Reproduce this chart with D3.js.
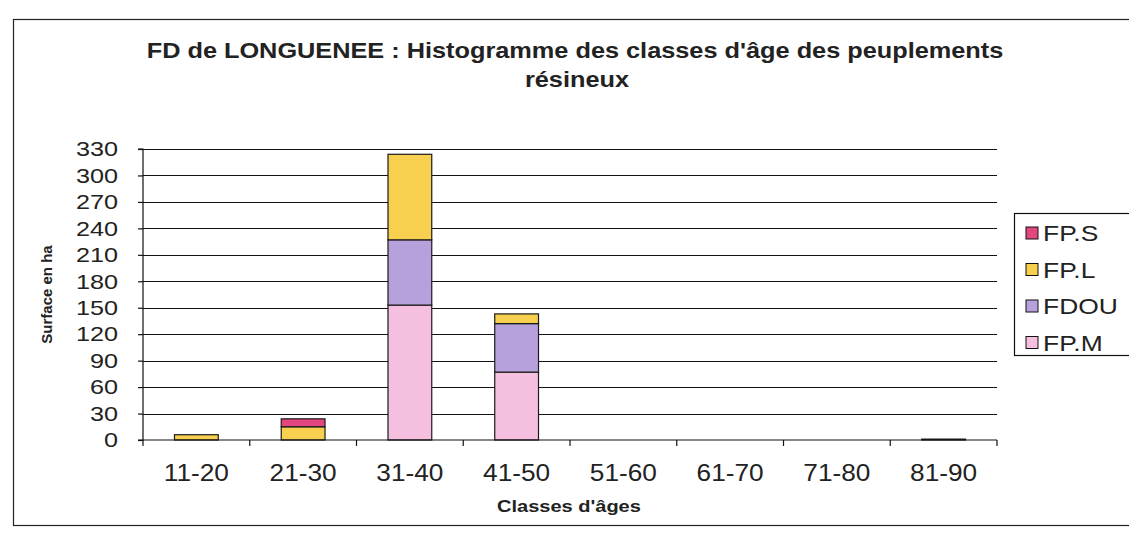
<!DOCTYPE html>
<html>
<head>
<meta charset="utf-8">
<script src="https://cdn.jsdelivr.net/npm/d3@7"></script>
<style>
  body { margin: 0; background: #fff; }
  svg { display: block; font-family: "Liberation Sans", Arial, sans-serif; }
</style>
</head>
<body>
<div id="chart"></div>
<script>
const categories = ['11-20', '21-30', '31-40', '41-50', '51-60', '61-70', '71-80', '81-90'];
const series = ['FP.M', 'FDOU', 'FP.L', 'FP.S'];
const fpM = [0, 0, 153, 77, 0, 0, 0, 0];
const fdou = [0, 0, 74, 55, 0, 0, 0, 0];
const fpL = [6, 15, 97, 11, 0, 0, 0, 1];
const fpS = [0, 9, 0, 0, 0, 0, 0, 0];
const yTicks = [0, 30, 60, 90, 120, 150, 180, 210, 240, 270, 300, 330];
const legendOrder = ['FP.S', 'FP.L', 'FDOU', 'FP.M'];

const colors = {
	'FP.M': '#f5bfdf',
	'FDOU': '#b7a1dc',
	'FP.L': '#f8d04f',
	'FP.S': '#e2467f'
};

const width = 1129, height = 538;
const margin = { left: 143, right: 132, top: 149, bottom: 98 };

// the scanned chart is a little wider than the font: stretch text to match
const stretch = (sel, k) => sel.each(function () {
	const len = this.getComputedTextLength();
	d3.select(this)
		.attr('textLength', len * k)
		.attr('lengthAdjust', 'spacingAndGlyphs');
});

const rows = categories.map((c, i) => ({
	cat: c,
	'FP.M': fpM[i],
	'FDOU': fdou[i],
	'FP.L': fpL[i],
	'FP.S': fpS[i]
}));

const svg = d3.select('#chart')
	.append('svg')
	.attr('width', width)
	.attr('height', height);

// outer chart frame
svg.append('rect')
	.attr('x', 13.5)
	.attr('y', 19.5)
	.attr('width', 1130)
	.attr('height', 506)
	.attr('fill', 'none')
	.attr('stroke', '#222')
	.attr('stroke-width', 1.2);

const x = d3.scaleBand()
	.domain(categories)
	.range([margin.left, width - margin.right])
	.paddingInner(0.59)
	.paddingOuter(0.295);

const xEdge = d3.scaleLinear()
	.domain([0, categories.length])
	.range([margin.left, width - margin.right]);

const y = d3.scaleLinear()
	.domain([0, 330])
	.range([height - margin.bottom, margin.top]);

// gridlines
svg.append('g')
	.selectAll('line')
	.data(yTicks.filter(d => d > 0))
	.join('line')
	.attr('x1', margin.left)
	.attr('x2', width - margin.right)
	.attr('y1', d => Math.round(y(d)) + 0.5)
	.attr('y2', d => Math.round(y(d)) + 0.5)
	.attr('stroke', '#111')
	.attr('stroke-width', 1.2);

// stacked bars
const stack = d3.stack().keys(series)(rows);

svg.append('g')
	.selectAll('g')
	.data(stack)
	.join('g')
	.attr('fill', d => colors[d.key])
	.selectAll('rect')
	.data(d => d.filter(p => p[1] - p[0] > 0))
	.join('rect')
	.attr('x', d => x(d.data.cat))
	.attr('width', x.bandwidth())
	.attr('y', d => y(d[1]))
	.attr('height', d => y(d[0]) - y(d[1]))
	.attr('stroke', '#1a1a1a')
	.attr('stroke-width', 1.2);

// y axis
const yAxis = d3.axisLeft(y)
	.tickValues(yTicks)
	.tickSize(5)
	.tickPadding(20);

const gy = svg.append('g')
	.attr('transform', `translate(${margin.left},0)`)
	.call(yAxis);
gy.selectAll('text')
	.attr('font-size', 21)
	.attr('fill', '#222')
	.attr('font-family', '"Liberation Sans", Arial, sans-serif')
	.call(stretch, 1.2);
gy.selectAll('line, path').attr('stroke', '#111').attr('stroke-width', 1.2);
gy.select('.domain').attr('d', `M-5,${y(330)}H0V${y(0)}H-5`);

// x axis with ticks at band edges
const gx = svg.append('g')
	.attr('transform', `translate(0,${y(0)})`);
gx.append('line')
	.attr('x1', margin.left)
	.attr('x2', width - margin.right)
	.attr('stroke', '#111')
	.attr('stroke-width', 1.2);
gx.selectAll('line.tick')
	.data(d3.range(categories.length + 1))
	.join('line')
	.attr('class', 'tick')
	.attr('x1', d => xEdge(d))
	.attr('x2', d => xEdge(d))
	.attr('y1', 0)
	.attr('y2', 6)
	.attr('stroke', '#111')
	.attr('stroke-width', 1.2);
gx.selectAll('text')
	.data(categories)
	.join('text')
	.attr('x', d => x(d) + x.bandwidth() / 2)
	.attr('y', 41)
	.attr('text-anchor', 'middle')
	.attr('font-size', 23)
	.attr('fill', '#222')
	.text(d => d)
	.call(stretch, 1.14);

// titles
svg.append('text')
	.attr('x', 575)
	.attr('y', 58)
	.attr('text-anchor', 'middle')
	.attr('font-size', 22)
	.attr('font-weight', 'bold')
	.attr('fill', '#222')
	.text("FD de LONGUENEE : Histogramme des classes d'âge des peuplements")
	.call(stretch, 1.15);
svg.append('text')
	.attr('x', 577)
	.attr('y', 87)
	.attr('text-anchor', 'middle')
	.attr('font-size', 22)
	.attr('font-weight', 'bold')
	.attr('fill', '#222')
	.text('résineux')
	.call(stretch, 1.15);

svg.append('text')
	.attr('transform', `translate(52,${(y(0) + y(330)) / 2}) rotate(-90)`)
	.attr('text-anchor', 'middle')
	.attr('font-size', 15)
	.attr('font-weight', 'bold')
	.attr('fill', '#222')
	.text('Surface en ha');

svg.append('text')
	.attr('x', 569)
	.attr('y', 512)
	.attr('text-anchor', 'middle')
	.attr('font-size', 16)
	.attr('font-weight', 'bold')
	.attr('fill', '#222')
	.text("Classes d'âges")
	.call(stretch, 1.25);

// legend
const legend = svg.append('g');
legend.append('rect')
	.attr('x', 1014.5)
	.attr('y', 213.5)
	.attr('width', 130)
	.attr('height', 142)
	.attr('fill', '#fff')
	.attr('stroke', '#111')
	.attr('stroke-width', 1.2);

const item = legend.selectAll('g.item')
	.data(legendOrder)
	.join('g')
	.attr('class', 'item')
	.attr('transform', (d, i) => `translate(1026,${233 + i * 36.5})`);
item.append('rect')
	.attr('x', 0)
	.attr('y', -6)
	.attr('width', 12)
	.attr('height', 12)
	.attr('fill', d => colors[d])
	.attr('stroke', '#111')
	.attr('stroke-width', 1);
item.append('text')
	.attr('x', 17)
	.attr('y', 8)
	.attr('font-size', 22)
	.attr('fill', '#222')
	.text(d => d)
	.call(stretch, 1.2);
</script>
</body>
</html>
